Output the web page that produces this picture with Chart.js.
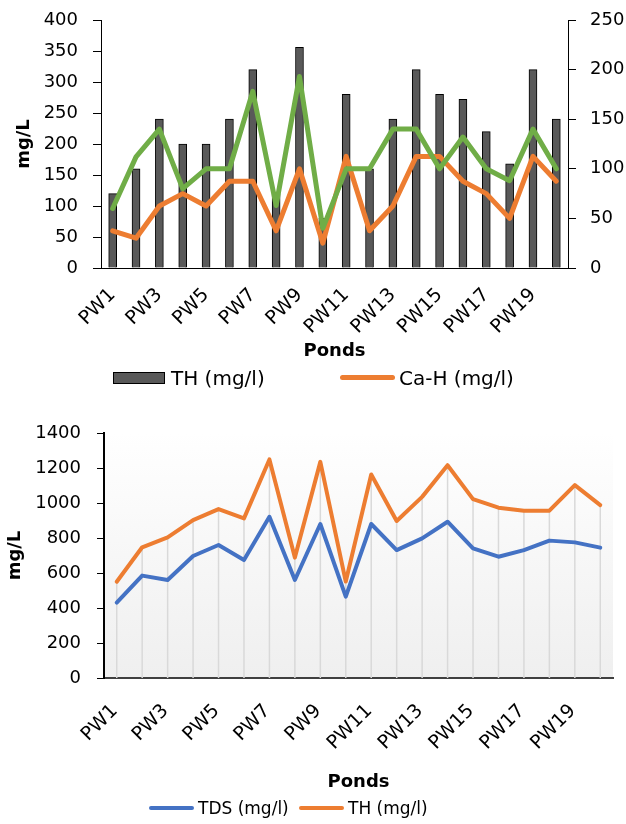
<!DOCTYPE html>
<html>
<head>
<meta charset="utf-8">
<script src="https://cdn.jsdelivr.net/npm/chart.js@4.4.1/dist/chart.umd.min.js"></script>
<style>
  html, body { margin: 0; padding: 0; background: #fff; }
  body { width: 626px; height: 824px; position: relative; overflow: hidden; font-family: "DejaVu Sans", sans-serif; color: #000; }
  .panel { position: absolute; left: 0; width: 626px; }
  #panelTop { top: 0; height: 400px; }
  #panelBottom { top: 400px; height: 424px; }
  .key { position: absolute; }
  .txt { position: absolute; white-space: nowrap; }
  .big { font-size: 20px; line-height: 24px; height: 24px; }
  .small { font-size: 17px; line-height: 22px; height: 22px; }
</style>
</head>
<body>
<div class="panel" id="panelTop"><canvas id="hardness"></canvas></div>
<div class="panel" id="panelBottom"><canvas id="solids"></canvas></div>

<!-- legend, upper chart -->
<div class="key" style="left:113px; top:372px; width:52px; height:12px; box-sizing:border-box; background:#595959; border:1px solid #000;"></div>
<span class="txt big" style="left:171px; top:366px;">TH (mg/l)</span>
<div class="key" style="left:340px; top:375px; width:55px; height:5px; border-radius:2.5px; background:#ED7D31;"></div>
<span class="txt big" style="left:399px; top:366px;">Ca-H (mg/l)</span>

<!-- legend, lower chart -->
<div class="key" style="left:149px; top:806px; width:45px; height:4px; border-radius:2px; background:#4472C4;"></div>
<span class="txt small" style="left:198px; top:797px;">TDS (mg/l)</span>
<div class="key" style="left:299px; top:806px; width:45px; height:4px; border-radius:2px; background:#ED7D31;"></div>
<span class="txt small" style="left:348px; top:797px;">TH (mg/l)</span>

<script>
// Sampling sites
const ponds = ['PW1','PW2','PW3','PW4','PW5','PW6','PW7','PW8','PW9','PW10',
               'PW11','PW12','PW13','PW14','PW15','PW16','PW17','PW18','PW19','PW20'];

// Upper chart: total hardness (bars, left axis), calcium and magnesium hardness (lines, right axis)
const totalHardness = [120, 160, 240, 200, 200, 240, 320, 120, 356, 80, 280, 160, 240, 320, 280, 272, 220, 168, 320, 240];
const calciumHardness = [37.5, 30, 62.5, 75, 62.5, 87.5, 87.5, 37.5, 100, 25, 112.5, 37.5, 62.5, 112.5, 112.5, 87.5, 75, 50, 112.5, 87.5];
const magnesiumHardness = [60, 112, 140, 80, 100, 100, 178, 63, 193, 40, 100, 100, 140, 140, 100, 132, 100, 88, 140, 100];

// Lower chart: total dissolved solids and total hardness
const dissolvedSolids = [431, 585, 560, 697, 760, 674, 921, 560, 880, 465, 880, 731, 798, 893, 741, 693, 731, 785, 775, 745];
const hardnessLower = [550, 747, 804, 902, 965, 912, 1249, 688, 1235, 551, 1163, 897, 1035, 1216, 1022, 973, 956, 956, 1102, 988];

// Axis tick values
const upperLeftTicks = [0, 50, 100, 150, 200, 250, 300, 350, 400];
const upperRightTicks = [0, 50, 100, 150, 200, 250];
const lowerTicks = [0, 200, 400, 600, 800, 1000, 1200, 1400];

Chart.defaults.font.family = '"DejaVu Sans", sans-serif';
Chart.defaults.font.size = 18;
Chart.defaults.color = '#000';
Chart.defaults.animation = false;

// Fixed axis box sizes; edge padding is trimmed so the plot area follows layout.padding
const setWidth = w => s => { s.width = w; s.paddingTop = 10; s.paddingBottom = 10; };
const setHeight = h => s => { s.height = h; s.paddingLeft = 0; s.paddingRight = 0; };
const useTicks = list => s => { s.ticks = list.map(v => ({ value: v })); };
const everyOther = (v, i) => (i % 2 === 0 ? ponds[i] : '');
const plain = v => String(v);

const lineStyle = { pointRadius: 0, tension: 0, borderJoinStyle: 'round', borderCapStyle: 'round' };

new Chart(document.getElementById('hardness'), {
  data: {
    labels: ponds,
    datasets: [
      Object.assign({ type: 'line', label: 'Mg-H (mg/l)', data: magnesiumHardness, yAxisID: 'y1',
        borderColor: '#70AD47', borderWidth: 5, order: 0 }, lineStyle),
      Object.assign({ type: 'line', label: 'Ca-H (mg/l)', data: calciumHardness, yAxisID: 'y1',
        borderColor: '#ED7D31', borderWidth: 5, order: 1 }, lineStyle),
      { type: 'bar', label: 'TH (mg/l)', data: totalHardness, yAxisID: 'y',
        backgroundColor: '#595959', borderColor: '#000', borderWidth: 1, barThickness: 8, order: 2 }
    ]
  },
  options: {
    responsive: true, maintainAspectRatio: false,
    layout: { padding: { top: 20, left: 0, right: 0, bottom: 38 } },
    plugins: { legend: { display: false }, tooltip: { enabled: false } },
    scales: {
      x: {
        type: 'category', offset: true,
        grid: { display: false, drawTicks: false },
        border: { display: true, color: '#000', width: 1 },
        ticks: { autoSkip: false, minRotation: 45, maxRotation: 45, padding: 16, labelOffset: 0,
                 font: { size: 19 }, callback: everyOther },
        title: { display: true, text: 'Ponds', font: { weight: 'bold', size: 18 }, padding: 0 },
        afterFit: setHeight(94)
      },
      y: {
        position: 'left', min: 0, max: 400,
        afterBuildTicks: useTicks(upperLeftTicks), afterFit: setWidth(101),
        grid: { drawOnChartArea: false, color: '#000', tickLength: 8 },
        border: { color: '#000', width: 1 },
        ticks: { padding: 15, callback: plain },
        title: { display: true, text: 'mg/L', font: { weight: 'bold', size: 18 }, padding: { top: 14, bottom: 0 } }
      },
      y1: {
        position: 'right', min: 0, max: 250,
        afterBuildTicks: useTicks(upperRightTicks), afterFit: setWidth(58),
        grid: { drawOnChartArea: false, color: '#000', tickLength: 8 },
        border: { color: '#000', width: 1 },
        ticks: { padding: 14, callback: plain }
      }
    }
  }
});

// Soft vertical shading behind the lower plot area
const plotShade = {
  id: 'plotShade',
  beforeDraw(chart) {
    const { ctx, chartArea: a } = chart;
    const g = ctx.createLinearGradient(0, a.top, 0, a.bottom);
    g.addColorStop(0, '#ffffff');
    g.addColorStop(1, '#efefef');
    ctx.save();
    ctx.fillStyle = g;
    ctx.fillRect(a.left, a.top, a.right - a.left, a.bottom - a.top);
    ctx.restore();
  }
};

// Drop lines from the higher series down to the category axis
const dropLines = {
  id: 'dropLines',
  beforeDatasetsDraw(chart) {
    const { ctx, scales: { x, y } } = chart;
    ctx.save();
    ctx.strokeStyle = '#d9d9d9';
    ctx.lineWidth = 1.5;
    ponds.forEach((p, i) => {
      const px = x.getPixelForValue(i);
      const high = Math.max(dissolvedSolids[i], hardnessLower[i]);
      ctx.beginPath();
      ctx.moveTo(px, y.getPixelForValue(high));
      ctx.lineTo(px, y.getPixelForValue(0));
      ctx.stroke();
    });
    ctx.restore();
  }
};

new Chart(document.getElementById('solids'), {
  type: 'line',
  data: {
    labels: ponds,
    datasets: [
      Object.assign({ label: 'TDS (mg/l)', data: dissolvedSolids, borderColor: '#4472C4', borderWidth: 4, order: 1 }, lineStyle),
      Object.assign({ label: 'TH (mg/l)', data: hardnessLower, borderColor: '#ED7D31', borderWidth: 4, order: 0 }, lineStyle)
    ]
  },
  plugins: [plotShade, dropLines],
  options: {
    responsive: true, maintainAspectRatio: false,
    layout: { padding: { top: 33, left: 0, right: 13, bottom: 31 } },
    plugins: { legend: { display: false }, tooltip: { enabled: false } },
    scales: {
      x: {
        type: 'category', offset: true,
        grid: { display: false, drawTicks: false },
        border: { display: true, color: '#404040', width: 2 },
        ticks: { autoSkip: false, minRotation: 45, maxRotation: 45, padding: 22, labelOffset: -2,
                 font: { size: 19 }, callback: everyOther },
        title: { display: true, text: 'Ponds', font: { weight: 'bold', size: 18 }, padding: 0 },
        afterFit: setHeight(115)
      },
      y: {
        position: 'left', min: 0, max: 1400,
        afterBuildTicks: useTicks(lowerTicks), afterFit: setWidth(104),
        grid: { drawOnChartArea: false, color: '#000', tickLength: 7 },
        border: { color: '#000', width: 2 },
        ticks: { padding: 16, callback: plain },
        title: { display: true, text: 'mg/L', font: { weight: 'bold', size: 18 }, padding: { top: 5, bottom: 0 } }
      }
    }
  }
});
</script>
</body>
</html>
